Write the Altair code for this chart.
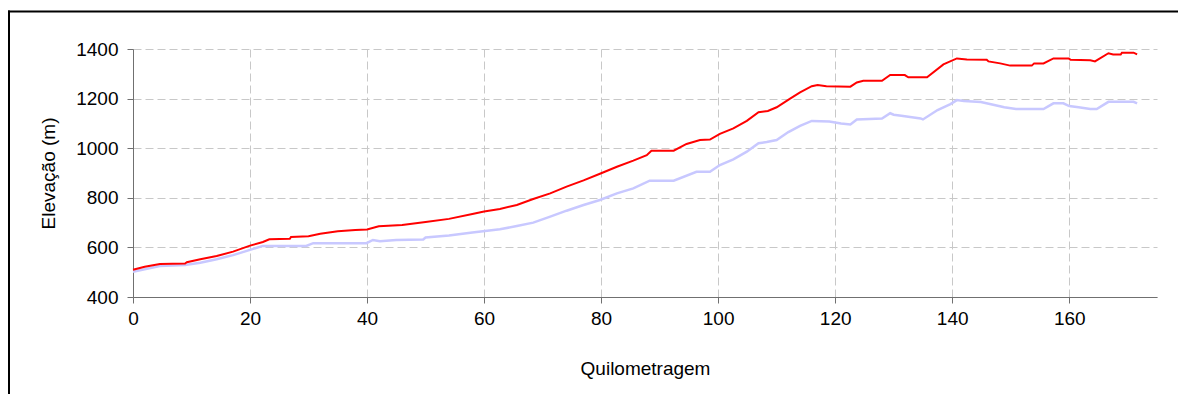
import altair as alt
import pandas as pd

# Perfil 1 (vermelho)
red_km = [0, 2, 4.6, 8.9, 9.2, 11.5, 14.3, 17.1, 20, 22.2, 23.3, 26.8, 27, 30, 32, 35, 38, 40, 42, 46,
          50, 54, 58, 60, 62.7, 65.6, 68.4, 71.3, 74.1, 77, 79.8, 82.7, 85.5, 87.8, 88.6, 92.4, 94.6,
          96.9, 98.6, 100.3, 102.6, 104.9, 106.9, 108.5, 110, 112.3, 114, 116, 117, 118.5, 122.6,
          123.7, 124.8, 128, 129.4, 131.9, 132.5, 135.7, 138.5, 140.8, 142.5, 145.9, 146.2, 148.2,
          149.9, 153.6, 154, 155.6, 157.3, 159.9, 160.2, 163.6, 164.4, 166.7, 167.5, 168.8, 169,
          171, 171.6]
red_elev = [510, 522, 533, 535, 540, 552, 565, 583, 607, 622, 633, 635, 642, 645, 655, 665, 670, 672, 685, 690,
            702, 715, 735, 745, 755, 771, 795, 818, 845, 870, 897, 925, 950, 972, 990, 990, 1017,
            1033, 1035, 1058, 1080, 1110, 1145, 1150, 1165, 1200, 1225, 1250, 1255, 1250, 1248,
            1265, 1272, 1272, 1295, 1295, 1286, 1286, 1338, 1362, 1358, 1357, 1350, 1342,
            1333, 1333, 1342, 1342, 1362, 1362, 1357, 1355, 1350, 1383, 1378, 1378, 1385,
            1385, 1378]

# Perfil 2 (lilás)
lav_km = [0, 4.6, 8.9, 11.5, 14.3, 17.1, 20, 22.2, 29.6, 30.8, 39.9, 41, 42.2, 45, 49.6, 50, 54, 58,
          62.7, 65.6, 68.4, 71.3, 74.1, 77, 79.8, 82.7, 85.5, 88.3, 92.4, 96.3, 98.6, 100.3, 102.6,
          104.9, 106.9, 108.3, 110, 112, 114, 116, 119, 121, 122.6, 123.7, 128, 129.4, 130, 131.3,
          134.6, 135, 137.5, 139.7, 140.8, 142, 144.9, 147.2, 148.9, 150.9, 155.6, 157.3, 159, 160,
          161.6, 163.6, 164.7, 166.7, 171, 171.6]
lav_elev = [502, 525, 529, 538, 552, 569, 590, 606, 606, 617, 617, 630, 625, 630, 632, 640, 648, 660,
            673, 686, 700, 724, 748, 771, 791, 818, 838, 869, 869, 905, 905, 932, 955,
            986, 1020, 1025, 1033, 1065, 1090, 1110, 1108, 1100, 1096, 1116, 1120, 1141, 1135, 1131,
            1120, 1116, 1154, 1178, 1194, 1190, 1186, 1174, 1165, 1158, 1158, 1181, 1181, 1170,
            1165, 1158, 1158, 1187, 1187, 1181]

x_ticks = [0, 20, 40, 60, 80, 100, 120, 140, 160]
y_ticks = [400, 600, 800, 1000, 1200, 1400]

df = pd.concat([
    pd.DataFrame({"km": lav_km, "elev": lav_elev, "serie": "Perfil 2", "ordem": range(len(lav_km))}),
    pd.DataFrame({"km": red_km, "elev": red_elev, "serie": "Perfil 1", "ordem": range(len(red_km))}),
])

FONT = "Liberation Sans"

x = alt.X("km:Q", scale=alt.Scale(domain=[0, 175], nice=False, zero=False),
          axis=alt.Axis(values=x_ticks, title="Quilometragem", format="d", labelFlush=False,
                        titleX=512, titleY=71, titleBaseline="middle", titleAlign="center",
                        labelPadding=6))
y = alt.Y("elev:Q", scale=alt.Scale(domain=[400, 1400], nice=False, zero=False),
          axis=alt.Axis(values=y_ticks, title="Elevação (m)", format="d", labelFlush=False,
                        titleX=-85, titleY=124, titleBaseline="middle", titleAlign="center",
                        titleAngle=270, labelPadding=9))

# moldura (esquerda e topo) da área do gráfico
border_top = alt.Chart(pd.DataFrame({"a": [0]})).mark_rule(
    color="black", strokeWidth=2, clip=False
).encode(x=alt.value(-125), x2=alt.value(1045), y=alt.value(-37.5))
border_left = alt.Chart(pd.DataFrame({"a": [0]})).mark_rule(
    color="black", strokeWidth=2, clip=False
).encode(x=alt.value(-124), y=alt.value(-38.5), y2=alt.value(346))

lav = alt.Chart(df[df.serie == "Perfil 2"]).mark_line(color="#C8C8FF", strokeWidth=2.5).encode(
    x=x, y=y, order="ordem:Q")
red = alt.Chart(df[df.serie == "Perfil 1"]).mark_line(color="#FF0000", strokeWidth=2).encode(
    x=x, y=y, order="ordem:Q")

chart = alt.layer(border_top, border_left, lav, red).properties(
    width=1024, height=248,
    autosize=alt.AutoSizeParams(type="none"),
    padding={"left": 125, "top": 41, "right": 21, "bottom": 97},
).configure_view(stroke=None).configure_axis(
    labelFont=FONT, titleFont=FONT, labelFontSize=19, titleFontSize=19,
    labelColor="black", titleColor="black", titleFontWeight="normal",
    domainColor="#707070", tickColor="#707070", tickSize=6,
    gridColor="#C8C8C8", gridDash=[8, 4], gridWidth=1,
)

chart.save("out.html", embed_options={"renderer": "svg", "actions": False})
